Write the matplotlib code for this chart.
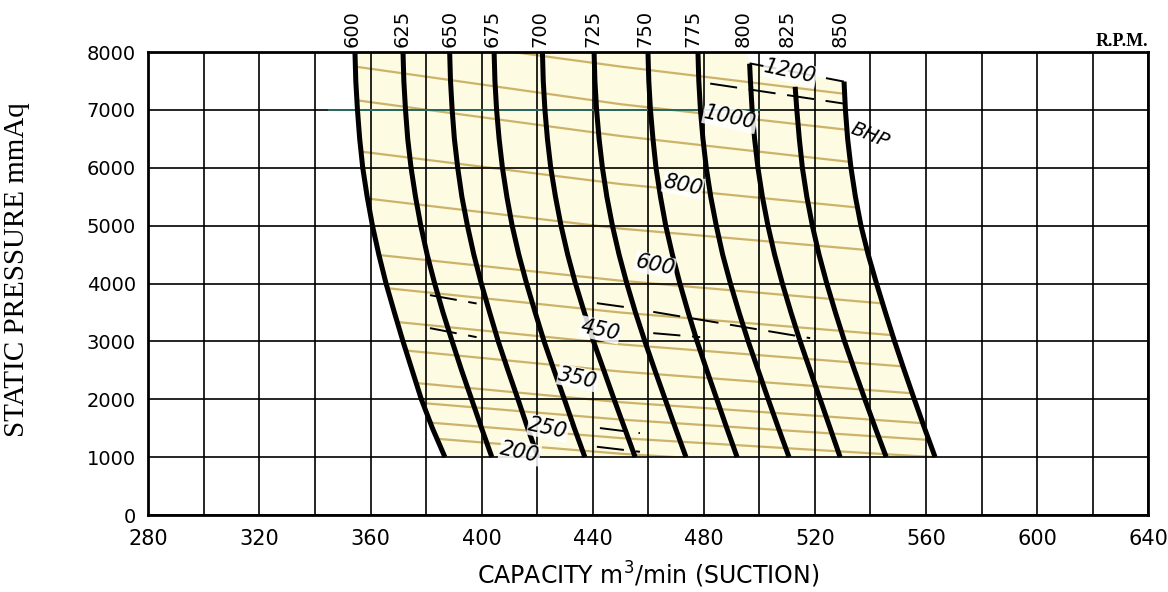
import matplotlib.pyplot as plt
from matplotlib.patches import Polygon
from matplotlib.transforms import blended_transform_factory

# static pressure levels (mmAq) at which the rpm curves were read
pressure = [8000, 7500, 7000, 6500, 6000, 5500, 5000, 4500,
            4000, 3500, 3000, 2500, 2000, 1500, 1000]

rpm = [600, 625, 650, 675, 700, 725, 750, 775, 800, 825, 850]
# first point of each curve (the last three start below 8000)
rpm_top_p = [8000, 8000, 8000, 8000, 8000, 8000, 8000, 8000, 7800, 7400, 7490]
rpm_x = [
    [354.4, 354.7, 355.3, 356.1, 357.2, 358.8, 360.7, 363.0, 365.6, 368.6, 371.7, 375.0, 378.3, 382.3, 386.8],
    [371.7, 372.0, 372.6, 373.4, 374.6, 376.2, 378.1, 380.4, 383.1, 386.1, 389.4, 392.8, 396.4, 400.0, 403.7],
    [388.5, 388.8, 389.4, 390.2, 391.4, 392.9, 394.9, 397.2, 399.9, 402.9, 406.0, 409.5, 413.1, 416.6, 420.3],
    [404.5, 404.8, 405.4, 406.3, 407.5, 409.1, 411.0, 413.4, 416.2, 419.3, 422.5, 426.1, 429.8, 433.4, 437.2],
    [421.9, 422.2, 422.8, 423.7, 424.9, 426.6, 428.6, 431.0, 433.8, 437.0, 440.3, 444.0, 447.7, 451.5, 455.3],
    [440.5, 440.8, 441.4, 442.3, 443.5, 445.1, 447.1, 449.5, 452.3, 455.4, 458.8, 462.4, 466.1, 469.8, 473.6],
    [459.9, 460.2, 460.8, 461.7, 462.8, 464.4, 466.3, 468.7, 471.4, 474.4, 477.6, 481.1, 484.7, 488.3, 492.0],
    [477.9, 478.2, 478.8, 479.7, 480.9, 482.5, 484.5, 486.8, 489.6, 492.7, 496.0, 499.6, 503.2, 506.9, 510.7],
    [496.5, 496.8, 497.4, 498.3, 499.5, 501.1, 503.1, 505.5, 508.3, 511.4, 514.7, 518.3, 521.9, 525.5, 529.1],
    [512.9, 513.5, 514.4, 515.5, 517.1, 519.1, 521.5, 524.3, 527.4, 530.7, 534.3, 538.0, 541.8, 545.7],
    [530.5, 531.0, 531.8, 533.0, 534.6, 536.6, 539.2, 542.2, 545.4, 548.7, 552.2, 555.8, 559.5, 563.3],
]
rpm_label_x = [353.3, 371.3, 388.6, 403.7, 421.0, 440.1, 458.9, 476.1, 494.1, 510.0, 529.0]

# tan BHP lines, pressure read at three capacities
bhp_x = [350, 450, 570]
bhp_p = [
    [8400, 7750, 7050],
    [7780, 7100, 6450],
    [7200, 6550, 5900],
    [6320, 5720, 5150],
    [5520, 4950, 4450],
    [4560, 4050, 3550],
    [4000, 3500, 3020],
    [3430, 2950, 2500],
    [2950, 2480, 2050],
    [2400, 1950, 1550],
    [2050, 1650, 1270],
    [1720, 1330, 980],
    [1450, 1060, 700],
]

bhp_labels = ['200', '250', '350', '450', '600', '800', '1000', '1200']
bhp_label_xy = [(413.8, 1090), (423.9, 1500), (434.7, 2370), (442.6, 3200),
                (462.4, 4320), (472.5, 5700), (489.4, 6860), (511.0, 7660)]

# black dashed BHP segments (x0, p0, x1, p1)
black_segs = [
    (496.5, 7806, 530.5, 7490),
    (482.3, 7456, 530.3, 7111),
    (461.8, 3511, 518.3, 3057),
    (381.4, 3800, 398.2, 3656),
    (381.4, 3230, 398.2, 3074),
    (461.8, 3143, 478.7, 3074),
    (441.5, 3661, 454.5, 3575),
    (442.6, 1503, 457.0, 1416),
    (441.5, 1180, 457.0, 1093),
]

fig, ax = plt.subplots(figsize=(11.68, 5.92), dpi=100)
fig.subplots_adjust(left=0.127, right=0.983, top=0.912, bottom=0.130)

ax.set_xlim(280, 640)
ax.set_ylim(0, 8000)
ax.set_xticks(range(280, 641, 40))
ax.set_xticks(range(300, 640, 40), minor=True)
ax.set_yticks(range(0, 8001, 1000))
ax.set_axisbelow('line')
ax.grid(which='both', color='black', lw=1.2)
ax.tick_params(which='both', length=0)
ax.tick_params(axis='x', pad=10, labelsize=15)
ax.tick_params(axis='y', pad=9, labelsize=14)
for sp in ax.spines.values():
    sp.set_linewidth(2)

# teal tint on part of the 7000 grid line (as printed)
ax.plot([345, 500], [7000, 7000], color='#2b6b5f', lw=1.4, zorder=1.6)

# shaded operating region
left_pts = list(zip(rpm_x[0], pressure))
right_pts = list(zip(rpm_x[-1], [rpm_top_p[-1]] + [p for p in pressure if p < rpm_top_p[-1]]))[::-1]
top_pts = [(rpm_x[8][0], rpm_top_p[8]), (rpm_x[8][0] - 1, 8000)]
region = Polygon(left_pts + right_pts + top_pts, closed=True,
                 facecolor='#FDFBE1', edgecolor='none', zorder=1)
ax.add_patch(region)

for p in bhp_p:
    ln, = ax.plot(bhp_x, p, color='#CDB36A', lw=1.6, zorder=1.2)
    ln.set_clip_path(region)

for x0, p0, x1, p1 in black_segs:
    ax.plot([x0, x1], [p0, p1], color='black', lw=1.4, zorder=2.5,
            dashes=(14, 6))

for r, xs, tp in zip(rpm, rpm_x, rpm_top_p):
    ps = [tp] + [p for p in pressure if p < tp]
    ax.plot(xs, ps, color='black', lw=3.6, zorder=3,
            solid_capstyle='butt', solid_joinstyle='round')

trans = blended_transform_factory(ax.transData, ax.transAxes)
for r, lx in zip(rpm, rpm_label_x):
    ax.text(lx, 1.012, str(r), transform=trans, rotation=90, ha='center',
            va='bottom', fontsize=14)

for t, (lx, ly) in zip(bhp_labels, bhp_label_xy):
    ax.text(lx, ly, t, fontsize=15, style='italic',
            rotation=-12, ha='center', va='center', zorder=4,
            bbox=dict(facecolor='white', edgecolor='none', pad=0.5, alpha=0.85))
ax.text(540, 6560, 'BHP', fontsize=14, style='italic',
        rotation=-22, ha='center', va='center', zorder=4)

ax.text(1.0, 1.005, 'R.P.M.', transform=ax.transAxes, ha='right',
        va='bottom', fontsize=13, family='Liberation Serif', weight='bold')

ax.set_xlabel('CAPACITY m$^3$/min (SUCTION)', fontsize=17, labelpad=8)
ax.set_ylabel('STATIC PRESSURE mmAq', fontsize=21, family='Liberation Serif')
ax.yaxis.set_label_coords(-0.118, 0.53)

fig.savefig('out.png', dpi=100)
